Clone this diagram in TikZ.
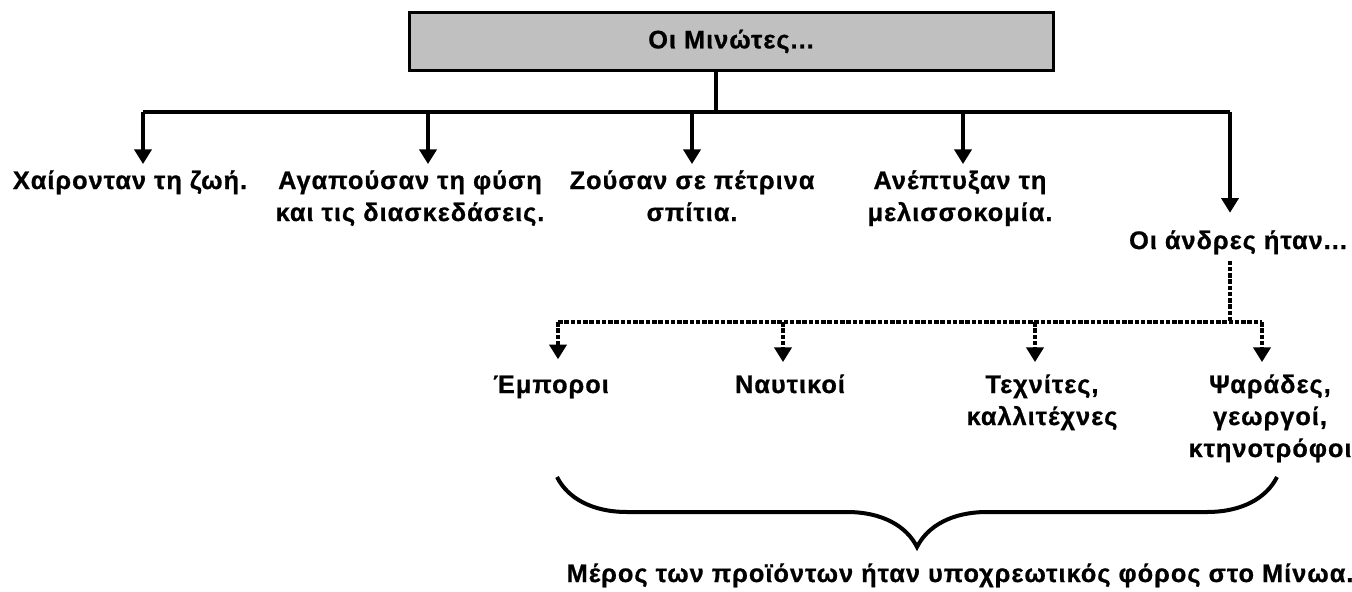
\documentclass[tikz,border=0pt]{standalone}
\usepackage{fontspec}
\setmainfont{Liberation Sans}[LetterSpace=4,BoldFeatures={FakeBold=0.8}]
\usetikzlibrary{arrows.meta,decorations.pathreplacing,positioning}
\definecolor{boxgray}{RGB}{192,192,192}

\begin{document}
\begin{tikzpicture}[
  x=0.75pt,y=-0.75pt,
  every node/.style={font=\fontsize{19}{24}\selectfont\bfseries},
  item node/.style={
    align=center,
    inner sep=0pt,
    anchor=base,
  },
  title node/.style={
    draw,
    line width=2.25pt,
    fill=boxgray,
    minimum width=483pt,
    minimum height=44pt,
  },
  bus/.style={draw,line width=3pt},
  branch/.style={bus,-{Triangle[width=12.75pt,length=11pt]},shorten >=4.5pt},
  dotted bus/.style={draw,line width=3pt,dash pattern=on 3.4pt off 1.3pt},
  dotted branch/.style={dotted bus,-{Triangle[width=12.75pt,length=11pt]},shorten >=9pt},
  ]
  \useasboundingbox (0,0) rectangle (1352,592);
  \node[title node] (minoans) at (731,41.5) {Οι Μινώτες...};
  \coordinate (hub) at (716,112);
  % first level
  \node[item node] (enjoy)  at (130,189) {Χαίρονταν τη ζωή.};
  \node[item node] (nature) at (410,221) {Αγαπούσαν τη φύση\\και τις διασκεδάσεις.};
  \node[item node] (houses) at (692,221) {Ζούσαν σε πέτρινα\\σπίτια.};
  \node[item node] (bees)   at (960,221) {Ανέπτυξαν τη\\μελισσοκομία.};
  \node[item node] (men)    at (1238,249) {Οι άνδρες ήταν...};
  \coordinate (bus-enjoy)  at (143,112);
  \coordinate (bus-nature) at (428,112);
  \coordinate (bus-houses) at (692,112);
  \coordinate (bus-bees)   at (963,112);
  \coordinate (bus-men)    at (1230,112);
  \path[bus] (minoans.south -| hub) -- (hub);
  \path[bus] (bus-enjoy) -- (bus-men);
  \path[branch] (bus-enjoy)  -- (bus-enjoy |- enjoy.north);
  \path[branch] (bus-nature) -- (bus-nature |- nature.north);
  \path[branch] (bus-houses) -- (bus-houses |- houses.north);
  \path[branch] (bus-bees)   -- (bus-bees |- bees.north);
  \path[branch,shorten >=13pt] (bus-men) -- (bus-men |- men.north);
  % second level
  \node[item node] (traders) at (551,393)  {Έμποροι};
  \node[item node] (sailors) at (790,393)  {Ναυτικοί};
  \node[item node] (artists) at (1042,425) {Τεχνίτες,\\καλλιτέχνες};
  \node[item node] (farmers) at (1270,457) {Ψαράδες,\\γεωργοί,\\κτηνοτρόφοι};
  \coordinate (men-hub)     at (1230,322);
  \coordinate (dot-traders) at (558,322);
  \coordinate (dot-sailors) at (783,322);
  \coordinate (dot-artists) at (1035,322);
  \coordinate (dot-farmers) at (1262,322);
  \path[dotted bus] (men.south -| men-hub) ++(0,6) -- (men-hub);
  \path[dotted bus] (dot-traders) -- (dot-farmers);
  \path[dotted branch,shorten >=12pt] (dot-traders) -- (dot-traders |- traders.north);
  \path[dotted branch] (dot-sailors) -- (dot-sailors |- sailors.north);
  \path[dotted branch] (dot-artists) -- (dot-artists |- artists.north);
  \path[dotted branch] (dot-farmers) -- (dot-farmers |- farmers.north);
  % brace
  \path[bus,decorate,decoration={brace,amplitude=52.5pt}] (1277,477) -- (557,477);
  \node[item node] (tribute) at (960,582) {Μέρος των προϊόντων ήταν υποχρεωτικός φόρος στο Μίνωα.};
\end{tikzpicture}
\end{document}
